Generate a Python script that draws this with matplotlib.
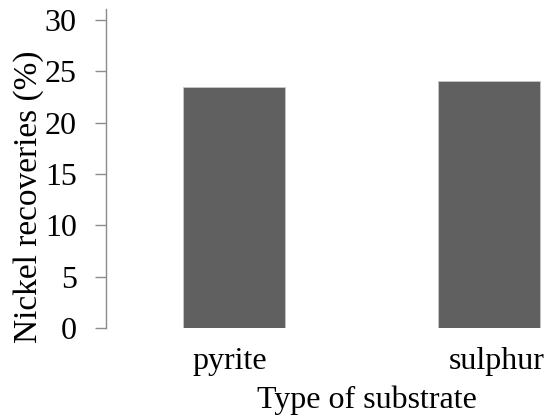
import matplotlib.pyplot as plt
import matplotlib.transforms as mtransforms

plt.rcParams['font.family'] = ['Liberation Serif', 'DejaVu Serif']

# 기질 종류별 니켈 회수율
substrates = ['pyrite', 'sulphur']
recoveries = [23.5, 24.1]
y_ticks = [0, 5, 10, 15, 20, 25, 30]

W, H = 546, 417
fig = plt.figure(figsize=(W / 100, H / 100), dpi=100)
# 축 위치 (픽셀 기준)
ax = fig.add_axes([106 / W, 89 / H, 511 / W, 319 / H])

ax.bar(range(len(substrates)), recoveries, width=0.4,
       color='#606060', edgecolor='#c8c8c8', linewidth=0.6)

ax.set_xlim(-0.5, 1.5)
ax.set_ylim(0, 31.07)
ax.set_yticks(y_ticks)
ax.set_xticks(range(len(substrates)))
ax.set_xticklabels(substrates)

for side in ['top', 'right', 'bottom']:
    ax.spines[side].set_visible(False)
ax.spines['left'].set_color('#8c8c8c')
ax.spines['left'].set_linewidth(1.0)

ax.tick_params(axis='y', length=8, width=1.0, color='#8c8c8c',
               labelsize=23, pad=13)
ax.tick_params(axis='x', length=0, labelsize=23, pad=14)

# 라벨 위치 살짝 조정
shifts = [-4, 7]
for lbl, dx in zip(ax.get_xticklabels(), shifts):
    lbl.set_transform(lbl.get_transform() +
                      mtransforms.ScaledTranslation(dx / 100, 0, fig.dpi_scale_trans))

ax.set_ylabel('Nickel recoveries (%)', fontsize=24, va='center', ha='center')
ax.yaxis.set_label_coords((29 - 106) / 511, (328 - 197) / 319)
ax.set_xlabel('Type of substrate', fontsize=23, va='baseline')
ax.xaxis.set_label_coords((367 - 106) / 511, -(408 - 328) / 319)

fig.savefig('out.png', dpi=100)
